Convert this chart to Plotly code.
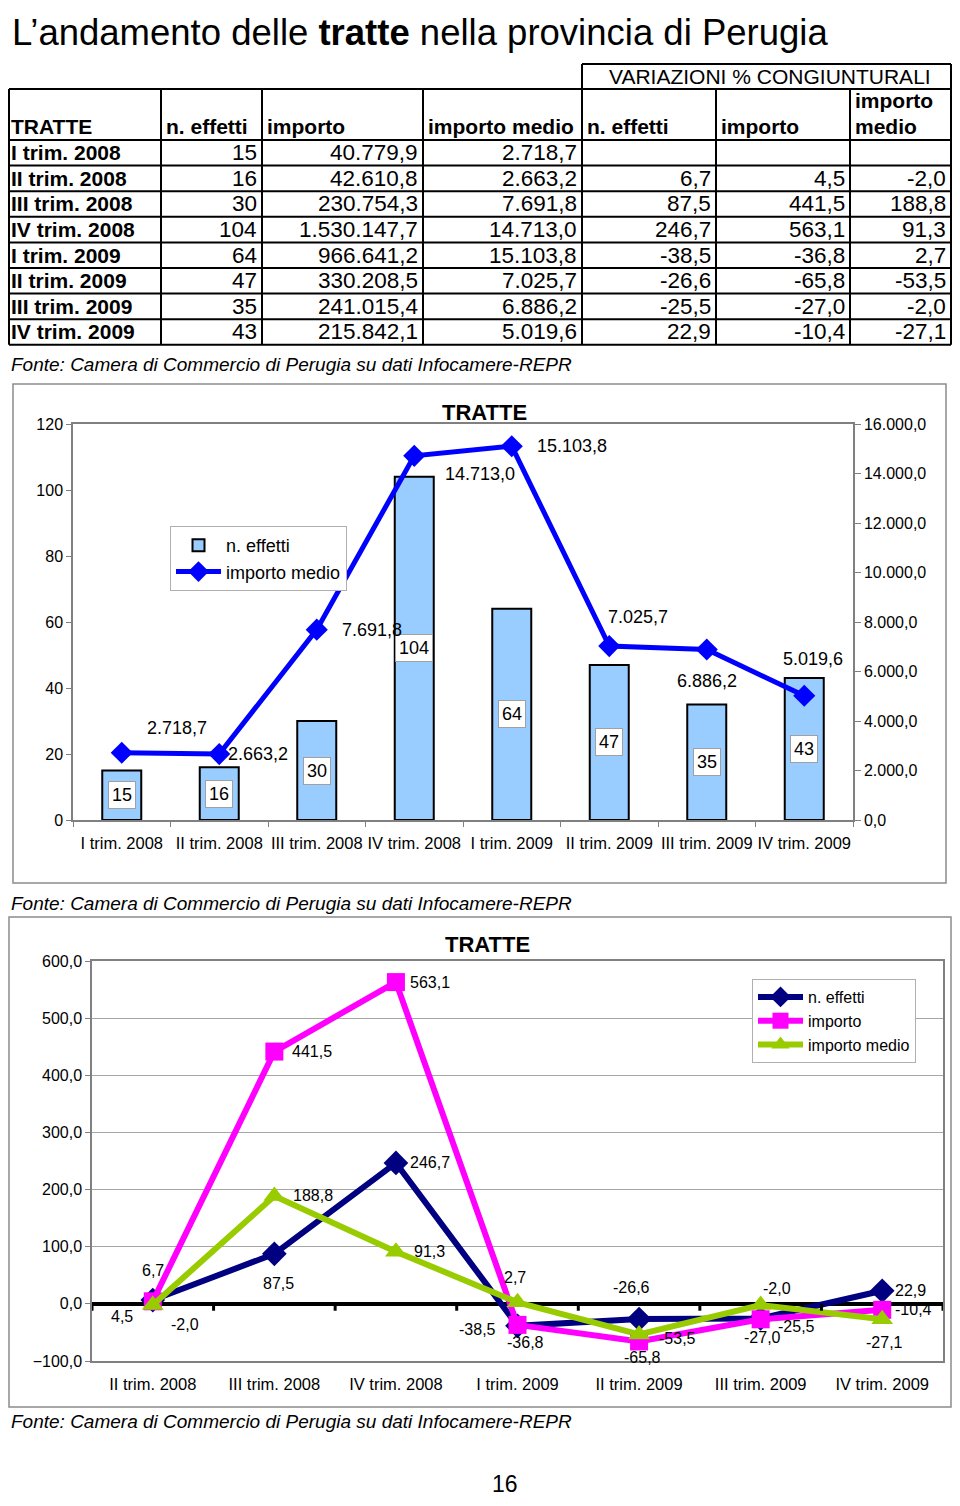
import plotly.graph_objects as go

# ---------------- data ----------------
periods = ["I trim. 2008", "II trim. 2008", "III trim. 2008", "IV trim. 2008",
           "I trim. 2009", "II trim. 2009", "III trim. 2009", "IV trim. 2009"]
n_effetti = [15, 16, 30, 104, 64, 47, 35, 43]
importo = [40779.9, 42610.8, 230754.3, 1530147.7, 966641.2, 330208.5, 241015.4, 215842.1]
importo_medio = [2718.7, 2663.2, 7691.8, 14713.0, 15103.8, 7025.7, 6886.2, 5019.6]
var_n_effetti = [None, 6.7, 87.5, 246.7, -38.5, -26.6, -25.5, 22.9]
var_importo = [None, 4.5, 441.5, 563.1, -36.8, -65.8, -27.0, -10.4]
var_importo_medio = [None, -2.0, 188.8, 91.3, 2.7, -53.5, -2.0, -27.1]

source = "Fonte: Camera di Commercio di Perugia su dati Infocamere-REPR"

# ---------------- helpers ----------------
# page offset (body margin) and figure size so the figure fits the 960x1506 window
OX, OY = 8, 8
W, H = 944, 1490
FONT = "Liberation Sans, Arial, Helvetica, sans-serif"


def px(x):
    return (min(max(x, OX + 1), OX + W - 1) - OX) / W


def py(y):
    return 1 - (y - OY) / H


def it(v, d=1):
    s = f"{v:,.{d}f}"
    return s.replace(",", "X").replace(".", ",").replace("X", ".")


fig = go.Figure()
ann = []
shapes = []


def text(x, y, t, size, anchor="left", bold=False, italic=False, color="black"):
    if bold:
        t = f"<b>{t}</b>"
    if italic:
        t = f"<i>{t}</i>"
    ann.append(dict(x=px(x), y=py(y), xref="paper", yref="paper", text=t,
                    showarrow=False, xanchor=anchor, yanchor="middle",
                    font=dict(family=FONT, size=size, color=color)))


def hline(x0, x1, y, w=2, color="black"):
    shapes.append(dict(type="line", xref="paper", yref="paper", x0=px(x0), x1=px(x1),
                       y0=py(y), y1=py(y), line=dict(color=color, width=w)))


def vline(x, y0, y1, w=2, color="black"):
    shapes.append(dict(type="line", xref="paper", yref="paper", x0=px(x), x1=px(x),
                       y0=py(y0), y1=py(y1), line=dict(color=color, width=w)))


# ---------------- page title ----------------
text(10, 32, "L’andamento delle <b>tratte</b> nella provincia di Perugia", 36.5)

# ---------------- table ----------------
cols = [4, 161, 262, 423, 582, 716, 850, 958]
top_var, top_tab, head_bot = 64, 89, 140
rh = 25.6
row_edges = [head_bot + rh * k for k in range(len(periods) + 1)]
TB = 21     # bold labels
TN = 22.5   # numbers

hline(582, 958, top_var)
vline(582, top_var, top_tab)
vline(958, top_var, top_tab)
text((582 + 958) / 2, 77, "VARIAZIONI % CONGIUNTURALI", 21, anchor="center")
hline(cols[0], cols[-1], top_tab)
hline(cols[0], cols[-1], head_bot)
for ye in row_edges[1:]:
    hline(cols[0], cols[-1], ye)
for c in cols:
    vline(c, top_tab, row_edges[-1])

headers = ["TRATTE", "n. effetti", "importo", "importo medio", "n. effetti", "importo"]
for j, hd in enumerate(headers):
    text(cols[j] + 3, 126, hd, TB, bold=True)
text(cols[6] + 3, 100, "importo", TB, bold=True)
text(cols[6] + 3, 126, "medio", TB, bold=True)

for i, p in enumerate(periods):
    yc = (row_edges[i] + row_edges[i + 1]) / 2
    text(cols[0] + 3, yc, p, TB, bold=True)
    vals = [str(n_effetti[i]), it(importo[i]), it(importo_medio[i]),
            "" if var_n_effetti[i] is None else it(var_n_effetti[i]),
            "" if var_importo[i] is None else it(var_importo[i]),
            "" if var_importo_medio[i] is None else it(var_importo_medio[i])]
    for j, v in enumerate(vals):
        if v:
            xr = min(cols[j + 2], OX + W - 1) - 3
            text(xr, yc, v, TN, anchor="right")

text(8, 364, source, 19, italic=True)

# ---------------- chart 1 ----------------
shapes.append(dict(type="rect", xref="paper", yref="paper", x0=px(13), x1=px(946),
                   y0=py(883), y1=py(384), line=dict(color="#8c8c8c", width=1.5)))
text(484, 412, "TRATTE", 22, anchor="center", bold=True)

fig.add_trace(go.Bar(x=periods, y=n_effetti, name="n. effetti", width=0.4,
                     marker=dict(color="#99CCFF", line=dict(color="black", width=2)),
                     xaxis="x", yaxis="y", legend="legend"))
fig.add_trace(go.Scatter(x=periods, y=importo_medio, name="importo medio",
                         mode="lines+markers", xaxis="x", yaxis="y2", legend="legend",
                         line=dict(color="#0000FF", width=5),
                         marker=dict(symbol="diamond", size=17, color="#0000FF")))

for p, n in zip(periods, n_effetti):
    ann.append(dict(x=p, y=n / 2, xref="x", yref="y", text=str(n), showarrow=False,
                    bgcolor="white", bordercolor="#a0a0a0", borderwidth=1, borderpad=3,
                    font=dict(family=FONT, size=18, color="black")))

offs1 = [(55, 25), (39, 0), (55, 0), (66, -18), (60, 0), (29, 29), (0, -31), (9, 37)]
for p, v, (dx, dy) in zip(periods, importo_medio, offs1):
    ann.append(dict(x=p, y=v, xref="x", yref="y2", text=it(v), showarrow=False,
                    xshift=dx, yshift=dy, font=dict(family=FONT, size=18, color="black")))

# ---------------- chart 2 ----------------
shapes.append(dict(type="rect", xref="paper", yref="paper", x0=px(7), x1=px(957),
                   y0=py(1407), y1=py(917), line=dict(color="#8c8c8c", width=1.5)))
text(487, 944, "TRATTE", 22, anchor="center", bold=True)
text(8, 904, source, 19, italic=True)
text(8, 1421, source, 19, italic=True)
text(505, 1484, "16", 23, anchor="center")

cats2 = periods[1:]
series2 = [
    ("n. effetti", var_n_effetti[1:], "#000080", "diamond", 19),
    ("importo", var_importo[1:], "#FF00FF", "square", 18),
    ("importo medio", var_importo_medio[1:], "#99CC00", "triangle-up", 19),
]
for name, vals, col, sym, ms in series2:
    fig.add_trace(go.Scatter(x=cats2, y=vals, name=name, mode="lines+markers",
                             xaxis="x2", yaxis="y3", legend="legend2",
                             line=dict(color=col, width=6),
                             marker=dict(symbol=sym, size=ms, color=col)))

offs2 = {
    "n. effetti": [(0, 30), (4, -30), (34, 0), (-40, -4), (-8, 32), (36, -8), (28, 0)],
    "importo": [(-31, -15), (38, 0), (34, 0), (8, -18), (3, -16), (2, -18), (31, 0)],
    "importo medio": [(32, -19), (39, 0), (34, 0), (-3, 25), (38, -4), (16, 17), (2, -23)],
}
for name, vals, col, sym, ms in series2:
    for c, v, (dx, dy) in zip(cats2, vals, offs2[name]):
        ann.append(dict(x=c, y=v, xref="x2", yref="y3", text=it(v), showarrow=False,
                        xshift=dx, yshift=dy, font=dict(family=FONT, size=16, color="black")))

# tick marks on the zero line at category boundaries
for k in range(len(cats2) + 1):
    shapes.append(dict(type="line", xref="x2", yref="y3", x0=k - 0.5, x1=k - 0.5,
                       y0=0, y1=-12, line=dict(color="black", width=3)))

AX = "#808080"
fig.update_layout(
    width=W, height=H, margin=dict(l=0, r=0, t=0, b=0, autoexpand=False),
    paper_bgcolor="white", plot_bgcolor="white",
    separators=",.", showlegend=True,
    font=dict(family=FONT, size=16, color="black"),
    xaxis=dict(domain=[px(73), px(853)], anchor="y", type="category",
               range=[-0.5, 7.5], showline=True, linecolor=AX, linewidth=1.5, mirror=True,
               ticks="outside", tickson="boundaries", ticklen=5, tickcolor=AX,
               ticklabelstandoff=7,
               tickangle=0, tickfont=dict(size=16.5), showgrid=False, automargin=False),
    yaxis=dict(domain=[py(820), py(424)], anchor="x", range=[0, 120], dtick=20,
               showline=True, linecolor=AX, linewidth=1.5, ticks="outside", ticklen=5,
               tickcolor=AX, showgrid=False, zeroline=False, tickfont=dict(size=16),
               automargin=False),
    yaxis2=dict(overlaying="y", side="right", anchor="x", range=[0, 16000], dtick=2000,
                tickformat=",.1f", showline=True, linecolor=AX, linewidth=1.5,
                ticks="outside", ticklen=6, tickcolor=AX, showgrid=False, zeroline=False,
                tickfont=dict(size=16), automargin=False),
    xaxis2=dict(domain=[px(92), px(943)], anchor="y3", type="category",
                range=[-0.5, 6.5], showline=True, linecolor=AX, linewidth=1.5, mirror=True,
                ticks="", tickangle=0, tickfont=dict(size=16.5), showgrid=False,
                ticklabelstandoff=7, automargin=False),
    yaxis3=dict(domain=[py(1361), py(961)], anchor="x2", range=[-100, 600], dtick=100,
                tickformat=",.1f", showline=True, linecolor=AX, linewidth=1.5, mirror=True,
                ticks="outside", ticklen=5, tickcolor=AX, showgrid=True,
                gridcolor="#a6a6a6", gridwidth=1, zeroline=True, zerolinecolor="black",
                zerolinewidth=4, tickfont=dict(size=16), automargin=False),
    legend=dict(x=px(170), y=py(526), xanchor="left", yanchor="top",
                bgcolor="white", bordercolor="#b0b0b0", borderwidth=1,
                font=dict(size=18), itemwidth=45, tracegroupgap=0),
    legend2=dict(x=px(752), y=py(979), xanchor="left", yanchor="top",
                 bgcolor="white", bordercolor="#b0b0b0", borderwidth=1,
                 font=dict(size=16), itemwidth=45, tracegroupgap=0),
    annotations=ann, shapes=shapes,
)

fig.write_html("out.html")
